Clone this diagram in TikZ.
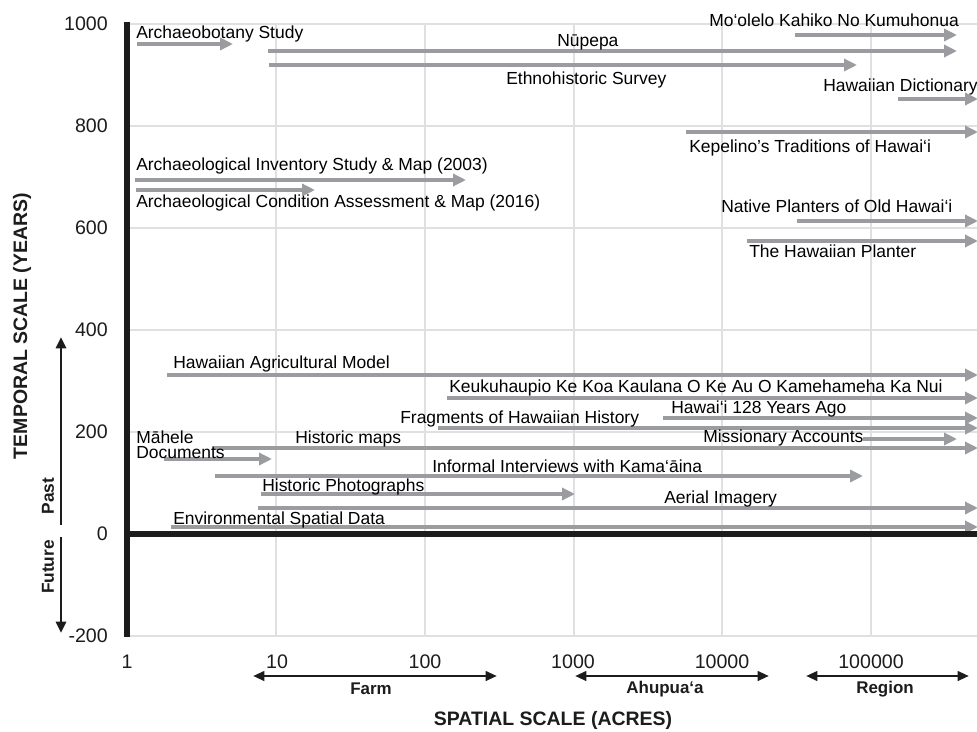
\documentclass[tikz,border=0pt]{standalone}
\usepackage{fontspec}
\setmainfont{Liberation Sans}
\usetikzlibrary{arrows.meta}
\definecolor{arrgray}{RGB}{155,156,159}
\definecolor{gridgray}{RGB}{224,224,224}
\definecolor{axblack}{RGB}{28,28,28}
\newcommand\garr[4]{%
  \coordinate (#1s) at (#3,#2); \coordinate (#1e) at (#4,#2);
  \draw[garrow] (#1s) -- (#1e);}
\newcommand\glab[4]{\node[lbl] (#1) at (#2,#3) {#4};}
\begin{document}
\begin{tikzpicture}[x=0.75pt,y=-0.75pt,
  garrow/.style={draw=arrgray, line width=3pt, -{Triangle[length=9.75pt,width=9pt]}},
  barrow/.style={draw=axblack, line width=2.2pt, -{Triangle[length=8.5pt,width=7.5pt]}},
  rarrow/.style={draw=axblack, line width=2.2pt, {Triangle[length=8.5pt,width=7pt]}-{Triangle[length=8.5pt,width=7pt]}},
  gridline/.style={draw=gridgray, line width=1.1pt},
  axisline/.style={draw=axblack, line width=4.3pt},
  lbl/.style={inner sep=0pt, anchor=base west, text=black, font=\fontsize{13.1}{15}\selectfont},
  tick/.style={inner sep=0pt, text=axblack, font=\fontsize{14.7}{16}\selectfont},
  title/.style={inner sep=0pt, text=axblack, font=\bfseries\fontsize{14.6}{16}\selectfont},
  rlab/.style={inner sep=0pt, text=axblack, font=\bfseries\fontsize{12.7}{14}\selectfont},
  pflab/.style={inner sep=0pt, text=axblack, rotate=90, font=\bfseries\fontsize{13}{14}\selectfont}]
\useasboundingbox (0,0) rectangle (977,731);
\fill[white] (0,0) rectangle (977,731);

% grid
\foreach \gy in {24,126,228,330,432,636}{
  \draw[gridline] (127,\gy) -- (977,\gy);}
\foreach \gx in {276,425,574,722,871}{
  \draw[gridline] (\gx,24) -- (\gx,636);}

% gray arrows
\garr{ab}{44}{137}{233}
\garr{nu}{51}{268}{957}
\garr{et}{65}{269}{857}
\garr{mo}{35}{795}{957}
\garr{hd}{99}{898}{978}
\garr{ke}{132}{686}{978}
\garr{ai}{180}{135}{466}
\garr{ac}{190}{136}{315}
\garr{np}{221}{797}{978}
\garr{hp}{241}{747}{978}
\garr{ha}{375}{167}{978}
\garr{ku}{398}{447}{978}
\garr{fr}{428}{438}{978}
\garr{hy}{418}{663}{978}
\garr{hm}{448}{212}{978}
\garr{mi}{439}{863}{957}
\garr{md}{459}{164}{272}
\garr{ii}{476}{215}{863}
\garr{ph}{494}{261}{575}
\garr{ae}{508}{258}{978}
\garr{en}{527}{171}{978}

% axes
\coordinate (yaxT) at (127,22);
\coordinate (yaxB) at (127,637);
\coordinate (xaxL) at (125,534);
\coordinate (xaxR) at (977,534);
\draw[axisline] (yaxT) -- (yaxB);
\draw[axisline] (xaxL) -- (xaxR);

% labels
\glab{lab}{136}{39}{Archaeobotany Study}
\glab{lnu}{557}{47}{Nūpepa}
\glab{let}{506}{85}{Ethnohistoric Survey}
\glab{lmo}{709}{27}{Mo‘olelo Kahiko No Kumuhonua}
\glab{lhd}{823}{92}{Hawaiian Dictionary}
\glab{lke}{689}{152}{Kepelino’s Traditions of Hawai‘i}
\glab{lai}{136}{171}{Archaeological Inventory Study \& Map (2003)}
\glab{lac}{136}{207}{Archaeological Condition Assessment \& Map (2016)}
\glab{lnp}{721}{212}{Native Planters of Old Hawai‘i}
\glab{lhp}{749}{257}{The Hawaiian Planter}
\glab{lha}{173}{368}{Hawaiian Agricultural Model}
\glab{lku}{449}{392}{Keukuhaupio Ke Koa Kaulana O Ke Au O Kamehameha Ka Nui}
\glab{lfr}{400}{423}{Fragments of Hawaiian History}
\glab{lhy}{671}{413}{Hawai‘i 128 Years Ago}
\glab{lhm}{295}{443}{Historic maps}
\glab{lmi}{703}{442}{Missionary Accounts}
\node[lbl, align=left, font=\fontsize{13.1}{11.25}\selectfont] (lmd) at (136,458) {Māhele\\Documents};
\glab{lii}{432}{472}{Informal Interviews with Kama‘āina}
\glab{lph}{262}{491}{Historic Photographs}
\glab{lae}{664}{503}{Aerial Imagery}
\glab{len}{173}{524}{Environmental Spatial Data}

% y ticks
\node[tick, anchor=east] (y1000) at (108,24) {1000};
\node[tick, anchor=east] (y800) at (108,126) {800};
\node[tick, anchor=east] (y600) at (108,228) {600};
\node[tick, anchor=east] (y400) at (108,330) {400};
\node[tick, anchor=east] (y200) at (108,432) {200};
\node[tick, anchor=east] (y0) at (108,534) {0};
\node[tick, anchor=east] (ym200) at (108,636) {-200};

% x ticks
\node[tick] (x1) at (127,662) {1};
\node[tick] (x10) at (277,662) {10};
\node[tick] (x100) at (425,662) {100};
\node[tick] (x1000) at (573,662) {1000};
\node[tick] (x10000) at (722,662) {10000};
\node[tick] (x100000) at (871,662) {100000};

% range arrows
\coordinate (farmL) at (253,676); \coordinate (farmR) at (497,676);
\coordinate (ahuL) at (575,676); \coordinate (ahuR) at (769,676);
\coordinate (regL) at (806,676); \coordinate (regR) at (969,676);
\draw[rarrow] (farmL) -- (farmR);
\draw[rarrow] (ahuL) -- (ahuR);
\draw[rarrow] (regL) -- (regR);
\node[rlab] (farm) at (371,689) {Farm};
\node[rlab] (ahu) at (665,689) {Ahupua‘a};
\node[rlab] (reg) at (885,689) {Region};

% past / future
\coordinate (pastS) at (61,525); \coordinate (pastE) at (61,337);
\coordinate (futS) at (61,537); \coordinate (futE) at (61,633);
\draw[barrow] (pastS) -- (pastE);
\draw[barrow] (futS) -- (futE);
\node[pflab] (past) at (48,496) {Past};
\node[pflab] (fut) at (48,567) {Future};

% titles
\node[title] (xt) at (553,720) {SPATIAL SCALE (ACRES)};
\node[title, rotate=90] (yt) at (22,326) {TEMPORAL SCALE (YEARS)};
\end{tikzpicture}
\end{document}
